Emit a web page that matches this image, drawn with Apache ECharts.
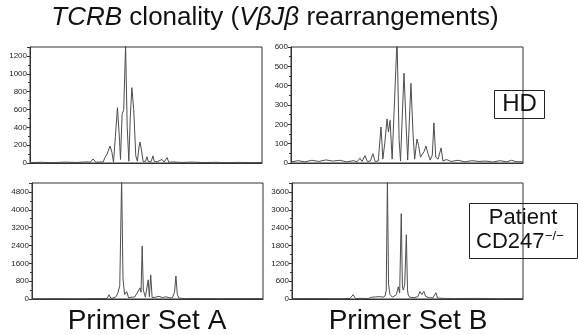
<!DOCTYPE html>
<html>
<head>
<meta charset="utf-8">
<script src="https://cdn.jsdelivr.net/npm/echarts@6/dist/echarts.min.js"></script>
<style>
  html, body { margin: 0; padding: 0; background: #fff; }
  #chart { width: 579px; height: 335px; }
</style>
</head>
<body>
<div id="chart"></div>
<script>
// traces, x = relative position in each panel (0-100)
const hdSetA = [[0,5],[5,8],[10,4],[15,10],[20,6],[24,12],[26,10],[27.2,45],[28.4,8],[30,12],[31.5,10],[32.3,60],[33.2,100],[34.5,190],[35.3,120],[36,10],[36.8,300],[37.7,620],[38.6,250],[39,40],[39.7,545],[40.4,600],[41.2,1320],[41.9,400],[42.6,20],[43.2,500],[43.9,845],[44.7,600],[45.6,80],[46.3,20],[47,180],[47.4,235],[48,150],[48.8,15],[49.8,20],[50.4,70],[51,15],[52.2,15],[53,80],[53.6,15],[55,15],[56.9,40],[57.8,10],[59.1,60],[59.8,8],[62,12],[65,6],[70,10],[75,5],[80,8],[85,4],[90,7],[95,5],[100,6]];

const hdSetB = [[0,5],[3,12],[6,6],[9,14],[12,8],[15,16],[18,10],[21,14],[24,6],[27,12],[28.5,6],[29.7,25],[30.6,8],[31.9,38],[32.9,8],[34.2,10],[35.3,48],[36.3,8],[37.6,10],[38.8,186],[39.6,20],[40.4,100],[41.4,228],[42,160],[42.7,220],[43.6,20],[44.4,20],[45.7,640],[46.6,120],[47.2,10],[48.7,465],[49.6,200],[50.3,15],[51.7,412],[52.6,150],[53.3,20],[54.3,124],[55,90],[55.8,30],[56.6,40],[57.4,60],[58.2,88],[59,50],[60,15],[60.9,40],[61.6,207],[62.4,30],[63.4,20],[64.7,78],[65.5,10],[67,18],[69,8],[72,14],[75,6],[78,12],[81,8],[84,10],[87,5],[90,12],[93,6],[95,14],[97,7],[100,6]];

const patSetA = [[0,10],[10,15],[20,10],[30,20],[32.5,20],[33.3,190],[34.2,30],[35.5,50],[36.5,120],[37.2,280],[38,600],[38.8,5400],[39.4,900],[40.1,200],[41,330],[41.8,60],[43,80],[43.7,160],[44.4,90],[45,180],[45.8,260],[46.8,500],[47.2,300],[47.7,2370],[48.2,400],[48.6,400],[49.1,80],[49.8,150],[50.3,860],[50.8,100],[51.4,1080],[52,60],[53.5,80],[55,120],[56.5,60],[58,100],[59.5,50],[60.8,60],[61.7,300],[62.3,1030],[62.9,200],[63.6,40],[66,20],[70,25],[80,15],[90,20],[100,15]];

const patSetB = [[0,10],[10,15],[20,10],[25,15],[26.5,145],[27.5,15],[30,20],[33,15],[34.5,60],[35.1,30],[36.2,70],[37,30],[38,80],[39.4,60],[40.3,100],[40.8,300],[41.3,4000],[41.8,500],[42.4,150],[43.5,60],[45.2,150],[46,410],[46.6,200],[47.3,2870],[47.8,400],[48.2,300],[48.8,500],[49.5,2160],[50,300],[50.3,140],[51,60],[51.8,100],[52.8,40],[54.5,80],[55.4,250],[56.2,150],[57.1,255],[57.8,90],[58.3,80],[59.5,40],[61,40],[62.3,210],[63,30],[66,20],[70,15],[80,20],[90,10],[100,15]];

// y axis ranges per panel
const yMax = [1300, 600, 5200, 3900];
const yStep = [200, 100, 800, 600];

const traces = [hdSetA, hdSetB, patSetA, patSetB];
const grids = [
  { left: 30, top: 47, width: 232, height: 116 },
  { left: 291, top: 47, width: 232, height: 116 },
  { left: 32, top: 183, width: 231, height: 116 },
  { left: 292, top: 183, width: 231, height: 116 },
];

const font = "Liberation Sans, Arial, sans-serif";

const option = {
  animation: false,
  grid: grids.map((g) => ({ ...g, show: true, borderColor: "#333", borderWidth: 1 })),
  xAxis: grids.map((g, i) => ({
    type: "value",
    gridIndex: i,
    min: 0,
    max: 100,
    axisLabel: { show: false },
    axisTick: { show: false },
    splitLine: { show: false },
    axisLine: { lineStyle: { color: "#333" } },
  })),
  yAxis: grids.map((g, i) => ({
    type: "value",
    gridIndex: i,
    min: 0,
    max: yMax[i],
    interval: yStep[i],
    splitLine: { show: false },
    axisLine: { show: true, lineStyle: { color: "#333" } },
    axisTick: { show: true, length: 3, lineStyle: { color: "#333" } },
    minorTick: { show: true, splitNumber: 2, length: 2, lineStyle: { color: "#333" } },
    axisLabel: {
      fontSize: 8,
      color: "#222",
      margin: 3,
      fontFamily: font,
      showMaxLabel: yMax[i] % yStep[i] === 0,
      formatter: (v) => String(v), // no thousands separator
    },
  })),
  series: traces.map((d, i) => ({
    type: "line",
    xAxisIndex: i,
    yAxisIndex: i,
    data: d,
    symbol: "none",
    clip: true,
    lineStyle: { color: "#4d4d4d", width: 1 },
  })),
  graphic: [
    {
      type: "text",
      x: 275,
      y: 5,
      style: {
        text: "{i|TCRB} clonality ({i|VβJβ} rearrangements)",
        fontSize: 26,
        fontFamily: font,
        fill: "#111",
        textAlign: "center",
        rich: { i: { fontStyle: "italic", fontSize: 26, fontFamily: font, fill: "#111" } },
      },
    },
    {
      type: "text",
      x: 147,
      y: 307,
      style: { text: "Primer Set A", fontSize: 28, fontFamily: font, fill: "#111", textAlign: "center" },
    },
    {
      type: "text",
      x: 408,
      y: 307,
      style: { text: "Primer Set B", fontSize: 28, fontFamily: font, fill: "#111", textAlign: "center" },
    },
    {
      type: "rect",
      shape: { x: 494.5, y: 90.5, width: 50, height: 28 },
      style: { fill: "none", stroke: "#222", lineWidth: 1 },
    },
    {
      type: "text",
      x: 519.5,
      y: 92,
      style: { text: "HD", fontSize: 24, fontFamily: font, fill: "#111", textAlign: "center" },
    },
    {
      type: "rect",
      shape: { x: 469.5, y: 203.5, width: 108, height: 55 },
      style: { fill: "none", stroke: "#222", lineWidth: 1 },
    },
    {
      type: "text",
      x: 523,
      y: 207,
      style: { text: "Patient", fontSize: 22, fontFamily: font, fill: "#111", textAlign: "center" },
    },
    {
      type: "text",
      x: 476,
      y: 231,
      style: { text: "CD247", fontSize: 22, fontFamily: font, fill: "#111" },
    },
    {
      type: "text",
      x: 545,
      y: 230,
      style: { text: "−/−", fontSize: 13, fontFamily: font, fill: "#111" },
    },
  ],
};

const myChart = echarts.init(document.getElementById("chart"));
myChart.setOption(option);
</script>
</body>
</html>
